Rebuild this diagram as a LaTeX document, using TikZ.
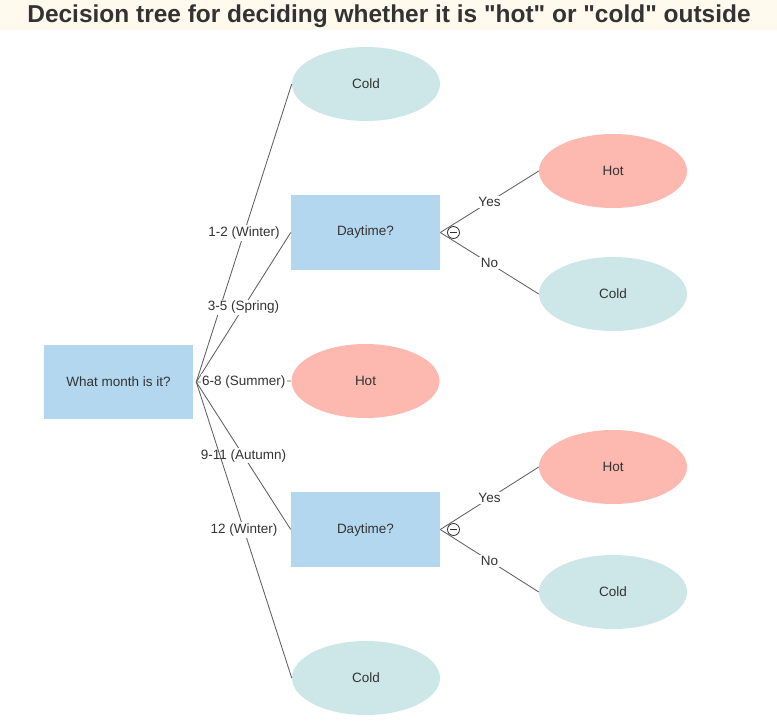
\documentclass[tikz,border=0pt]{standalone}
\usepackage{fontspec}
\setmainfont{Liberation Sans}
\newfontfamily\titlefont{Liberation Sans}[Ligatures=TeXOff]
\usetikzlibrary{shapes.geometric}
\definecolor{boxblue}{HTML}{B3D7EF}
\definecolor{coldcyan}{HTML}{CDE6E8}
\definecolor{hotred}{HTML}{FDB8AF}
\definecolor{edgegray}{HTML}{5E5E5E}
\definecolor{textgray}{HTML}{333333}
\definecolor{titleband}{HTML}{FFF9EE}
\tikzset{
	question/.style={rectangle, fill=boxblue, minimum width=3.725cm, minimum height=1.86cm, text=textgray, font=\fontsize{9.6}{11}\selectfont},
	coldleaf/.style={ellipse, fill=coldcyan, minimum width=3.7cm, minimum height=1.85cm, text=textgray, font=\fontsize{9.6}{11}\selectfont},
	hotleaf/.style={ellipse, fill=hotred, minimum width=3.7cm, minimum height=1.85cm, text=textgray, font=\fontsize{9.6}{11}\selectfont},
	branch/.style={draw=edgegray, line width=0.6pt},
	choice/.style={fill=white, inner sep=1pt, text=textgray, font=\fontsize{9.6}{11}\selectfont},
	fold/.style={circle, draw=textgray, line width=0.6pt, fill=white, minimum size=0.3cm, inner sep=0pt},
}
\begin{document}
\begin{tikzpicture}
	\useasboundingbox (0,0) rectangle (19.425,-18.175);
	\fill[titleband] (0,0) rectangle (19.425,-0.75);
	\node (title) at (9.725,-0.41) {\titlefont\fontsize{17.4}{20}\selectfont\bfseries\color{textgray}Decision tree for deciding whether it is "hot" or "cold" outside};
	% first level
	\node[question] (month) at (2.9625,-9.55) {What month is it?};
	\node[coldleaf] (cold1) at (9.15,-2.1) {Cold};
	\node[question] (day1) at (9.1375,-5.8125) {Daytime?};
	\node[hotleaf] (hot1) at (9.1375,-9.525) {Hot};
	\node[question] (day2) at (9.1375,-13.2375) {Daytime?};
	\node[coldleaf] (cold2) at (9.15,-16.95) {Cold};
	% second level
	\node[hotleaf] (hot2) at (15.325,-4.275) {Hot};
	\node[coldleaf] (cold3) at (15.325,-7.35) {Cold};
	\node[hotleaf] (hot3) at (15.325,-11.675) {Hot};
	\node[coldleaf] (cold4) at (15.325,-14.8) {Cold};
	\coordinate (fan) at ([xshift=0.075cm]month.east);
	\draw[branch] (fan) -- node[choice] {1-2 (Winter)} (cold1.west);
	\draw[branch] (fan) -- node[choice] {3-5 (Spring)} (day1.west);
	\draw[branch] (fan) -- node[choice] {6-8 (Summer)} (hot1.west);
	\draw[branch] (fan) -- node[choice] {9-11 (Autumn)} (day2.west);
	\draw[branch] (fan) -- node[choice] {12 (Winter)} (cold2.west);
	\draw[branch] (day1.east) -- node[choice] {Yes} (hot2.west);
	\draw[branch] (day1.east) -- node[choice] {No} (cold3.west);
	\draw[branch] (day2.east) -- node[choice] {Yes} (hot3.west);
	\draw[branch] (day2.east) -- node[choice] {No} (cold4.west);
	% collapse marks
	\node[fold] (fold1) at ([xshift=0.33cm]day1.east) {};
	\node[fold] (fold2) at ([xshift=0.33cm]day2.east) {};
	\draw[textgray, line width=0.6pt] ([xshift=-0.08cm]fold1.center) -- ([xshift=0.08cm]fold1.center);
	\draw[textgray, line width=0.6pt] ([xshift=-0.08cm]fold2.center) -- ([xshift=0.08cm]fold2.center);
\end{tikzpicture}
\end{document}
